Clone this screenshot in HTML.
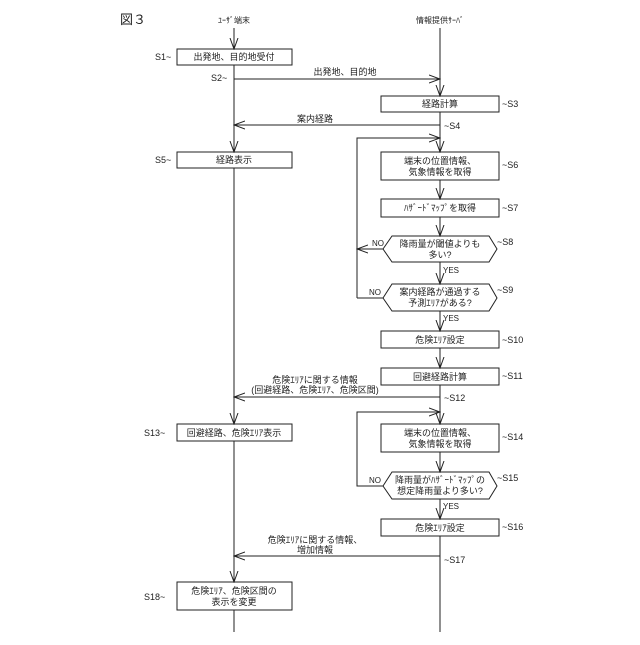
<!DOCTYPE html>
<html><head><meta charset="utf-8"><style>
body{margin:0;background:#fff}
text{font-family:"Liberation Sans","Noto Sans CJK JP",sans-serif;font-size:9px;fill:#222}
</style></head><body>
<svg width="640" height="640" viewBox="0 0 640 640" xmlns="http://www.w3.org/2000/svg">
<defs><marker id="a" markerWidth="12" markerHeight="10" refX="11" refY="5" orient="auto" markerUnits="userSpaceOnUse"><path d="M0,1 L11,5 L0,9" fill="none" stroke="#222" stroke-width="1"/></marker></defs>
<g stroke="#222" stroke-width="1" fill="none">
<line x1="234" y1="28" x2="234" y2="49" marker-end="url(#a)"/>
<line x1="234" y1="65" x2="234" y2="152" marker-end="url(#a)"/>
<line x1="234" y1="168" x2="234" y2="424" marker-end="url(#a)"/>
<line x1="234" y1="441" x2="234" y2="582" marker-end="url(#a)"/>
<line x1="234" y1="610" x2="234" y2="632"/>
<line x1="440" y1="28" x2="440" y2="96" marker-end="url(#a)"/>
<line x1="234" y1="79" x2="440" y2="79" marker-end="url(#a)"/>
<line x1="440" y1="112" x2="440" y2="152" marker-end="url(#a)"/>
<line x1="440" y1="125" x2="234" y2="125" marker-end="url(#a)"/>
<polyline points="357,298 357,138 440,138" marker-end="url(#a)"/>
<line x1="440" y1="180" x2="440" y2="199" marker-end="url(#a)"/>
<line x1="440" y1="217" x2="440" y2="236" marker-end="url(#a)"/>
<line x1="383" y1="249" x2="357" y2="249" marker-end="url(#a)"/>
<line x1="440" y1="262" x2="440" y2="284" marker-end="url(#a)"/>
<line x1="383" y1="298" x2="357" y2="298"/>
<line x1="440" y1="311" x2="440" y2="331" marker-end="url(#a)"/>
<line x1="440" y1="348" x2="440" y2="368" marker-end="url(#a)"/>
<line x1="440" y1="385" x2="440" y2="424" marker-end="url(#a)"/>
<line x1="440" y1="397" x2="234" y2="397" marker-end="url(#a)"/>
<polyline points="383,486 357,486 357,412 440,412" marker-end="url(#a)"/>
<line x1="440" y1="452" x2="440" y2="472" marker-end="url(#a)"/>
<line x1="440" y1="499" x2="440" y2="519" marker-end="url(#a)"/>
<line x1="440" y1="536" x2="440" y2="632"/>
<line x1="440" y1="556" x2="234" y2="556" marker-end="url(#a)"/>
<rect x="177" y="49" width="115" height="16"/>
<rect x="177" y="152" width="115" height="16"/>
<rect x="177" y="424" width="115" height="17"/>
<rect x="177" y="582" width="115" height="28"/>
<rect x="381" y="96" width="118" height="16"/>
<rect x="381" y="152" width="118" height="28"/>
<rect x="381" y="199" width="118" height="18"/>
<rect x="381" y="331" width="118" height="17"/>
<rect x="381" y="368" width="118" height="17"/>
<rect x="381" y="424" width="118" height="28"/>
<rect x="381" y="519" width="118" height="17"/>
<polygon points="383,249 392,236 489,236 497,249 489,262 392,262"/>
<polygon points="383,298 392,284 489,284 497,298 489,311 392,311"/>
<polygon points="383,486 392,472 489,472 497,486 489,499 392,499"/>
</g>
<text x="120" y="24" style="font-size:13px">図３</text>
<text x="234" y="23" text-anchor="middle" style="font-size:8px">ﾕｰｻﾞ端末</text>
<text x="440" y="23" text-anchor="middle" style="font-size:8px">情報提供ｻｰﾊﾞ</text>
<text x="234" y="60" text-anchor="middle">出発地、目的地受付</text>
<text x="234" y="163" text-anchor="middle">経路表示</text>
<text x="234" y="436" text-anchor="middle">回避経路、危険ｴﾘｱ表示</text>
<text x="234" y="594" text-anchor="middle">危険ｴﾘｱ、危険区間の</text>
<text x="234" y="605" text-anchor="middle">表示を変更</text>
<text x="440" y="107" text-anchor="middle">経路計算</text>
<text x="440" y="164" text-anchor="middle">端末の位置情報、</text>
<text x="440" y="175" text-anchor="middle">気象情報を取得</text>
<text x="440" y="211" text-anchor="middle">ﾊｻﾞｰﾄﾞﾏｯﾌﾟを取得</text>
<text x="440" y="247" text-anchor="middle">降雨量が閾値よりも</text>
<text x="440" y="258" text-anchor="middle">多い?</text>
<text x="440" y="295" text-anchor="middle">案内経路が通過する</text>
<text x="440" y="306" text-anchor="middle">予測ｴﾘｱがある?</text>
<text x="440" y="343" text-anchor="middle">危険ｴﾘｱ設定</text>
<text x="440" y="380" text-anchor="middle">回避経路計算</text>
<text x="440" y="436" text-anchor="middle">端末の位置情報、</text>
<text x="440" y="447" text-anchor="middle">気象情報を取得</text>
<text x="440" y="483" text-anchor="middle">降雨量がﾊｻﾞｰﾄﾞﾏｯﾌﾟの</text>
<text x="440" y="494" text-anchor="middle">想定降雨量より多い?</text>
<text x="440" y="531" text-anchor="middle">危険ｴﾘｱ設定</text>
<text x="345" y="75" text-anchor="middle">出発地、目的地</text>
<text x="315" y="122" text-anchor="middle">案内経路</text>
<text x="315" y="383" text-anchor="middle">危険ｴﾘｱに関する情報</text>
<text x="315" y="393" text-anchor="middle">(回避経路、危険ｴﾘｱ、危険区間)</text>
<text x="315" y="543" text-anchor="middle">危険ｴﾘｱに関する情報、</text>
<text x="315" y="553" text-anchor="middle">増加情報</text>
<text x="372" y="246" style="font-size:8px">NO</text>
<text x="369" y="295" style="font-size:8px">NO</text>
<text x="369" y="483" style="font-size:8px">NO</text>
<text x="443" y="273" style="font-size:8px">YES</text>
<text x="443" y="321" style="font-size:8px">YES</text>
<text x="443" y="509" style="font-size:8px">YES</text>
<g style="font-size:8px">
<text x="155" y="60">S1~</text><text x="211" y="81">S2~</text>
<text x="155" y="163">S5~</text><text x="144" y="436">S13~</text><text x="144" y="600">S18~</text>
<text x="502" y="107">~S3</text><text x="444" y="129">~S4</text><text x="502" y="168">~S6</text>
<text x="502" y="211">~S7</text><text x="497" y="245">~S8</text><text x="497" y="293">~S9</text>
<text x="502" y="343">~S10</text><text x="502" y="379">~S11</text><text x="444" y="401">~S12</text>
<text x="502" y="440">~S14</text><text x="497" y="481">~S15</text><text x="502" y="530">~S16</text>
<text x="444" y="563">~S17</text>
</g>
</svg>
</body></html>
